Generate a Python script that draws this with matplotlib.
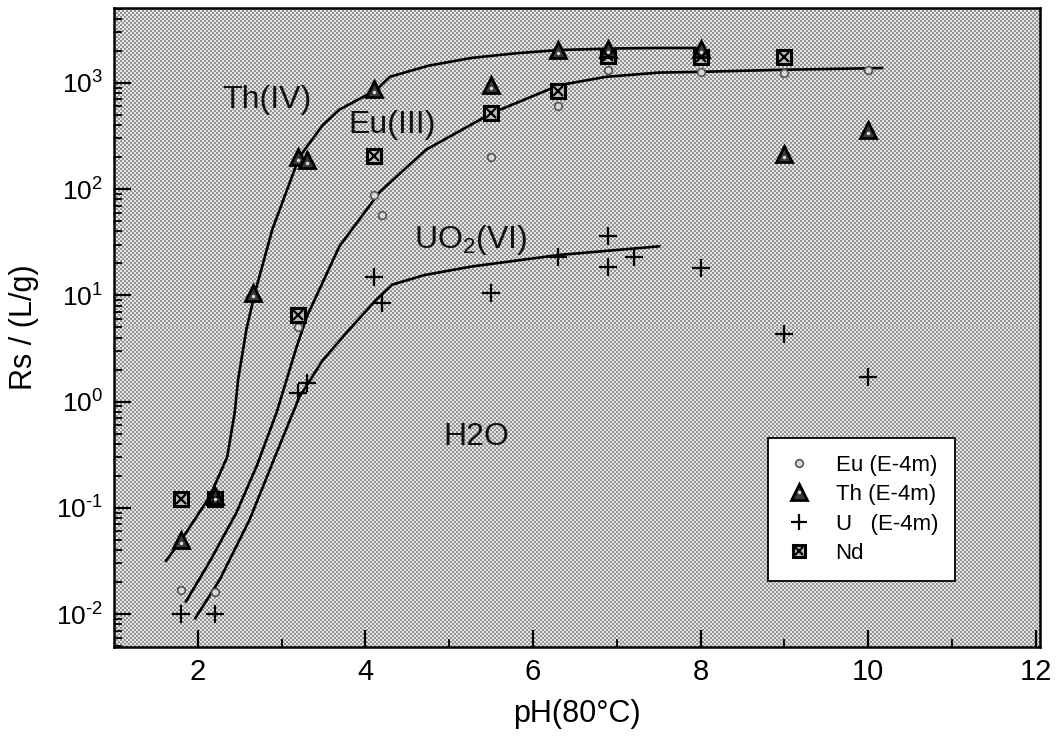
import numpy as np
import matplotlib
matplotlib.use("Agg")
import matplotlib.pyplot as plt
from matplotlib import font_manager
from matplotlib.ticker import LogLocator, FixedLocator, NullFormatter, FuncFormatter
from matplotlib.legend_handler import HandlerTuple
from matplotlib.lines import Line2D

# ---- measured sorption ratios Rs (L/g) vs pH at 80 C ----
eu_ph = [1.8, 2.2, 3.2, 4.1, 4.2, 5.5, 6.3, 6.9, 8.0, 9.0, 10.0]
eu_rs = [0.017, 0.016, 5.0, 88, 57, 200, 610, 1330, 1270, 1240, 1310]

th_ph = [1.8, 2.2, 2.66, 3.2, 3.3, 4.1, 5.5, 6.3, 6.9, 8.0, 9.0, 10.0]
th_rs = [0.05, 0.13, 10.5, 200, 190, 880, 960, 2050, 2100, 2100, 215, 360]

u_ph = [1.8, 2.2, 3.2, 3.3, 4.1, 4.2, 5.5, 6.3, 6.9, 6.9, 7.2, 8.0, 9.0, 10.0]
u_rs = [0.01, 0.01, 1.2, 1.5, 15, 8.5, 10.5, 23, 36, 18.5, 23, 18, 4.3, 1.7]

nd_ph = [1.8, 2.2, 3.2, 4.1, 5.5, 6.3, 6.9, 8.0, 9.0]
nd_rs = [0.12, 0.12, 6.6, 205, 520, 830, 1780, 1760, 1760]

# ---- fitted sorption edges ----
th_fit_ph = [1.61, 1.79, 2.14, 2.35, 2.44, 2.48, 2.58, 2.68, 2.89, 3.21, 3.49,
             3.69, 4.13, 4.29, 4.75, 5.27, 5.8, 6.31, 7.0, 7.5, 8.02]
th_fit_rs = [0.031, 0.048, 0.127, 0.30, 0.79, 1.6, 4.8, 10.5, 42, 200, 400,
             560, 860, 1140, 1450, 1720, 1900, 2040, 2110, 2130, 2130]

eu_fit_ph = [1.85, 2.14, 2.46, 2.70, 2.94, 3.18, 3.3, 3.69, 4.17, 4.72, 5.51,
             6.31, 6.87, 7.5, 8.0, 9.0, 10.18]
eu_fit_rs = [0.0128, 0.031, 0.09, 0.245, 0.79, 3.3, 6.3, 29, 94, 234, 520,
             950, 1140, 1250, 1270, 1330, 1380]

uo2_fit_ph = [1.96, 2.26, 2.62, 2.94, 3.21, 3.49, 3.81, 4.13, 4.32, 4.7, 5.27,
              6.31, 7.52]
uo2_fit_rs = [0.0089, 0.021, 0.078, 0.33, 1.1, 2.45, 4.8, 9.1, 12.6, 15.5,
              18.7, 24, 29]

legend_labels = ["Eu (E-4m)", "Th (E-4m)", "U   (E-4m)", "Nd"]
x_ticks = [2, 4, 6, 8, 10, 12]
y_ticks = [1e-2, 1e-1, 1e0, 1e1, 1e2, 1e3]

# ---- fonts ----
available = {f.name for f in font_manager.fontManager.ttflist}
main_font = "Liberation Sans" if "Liberation Sans" in available else "DejaVu Sans"
plt.rcParams["font.family"] = [main_font, "DejaVu Sans"]
plt.rcParams["mathtext.fontset"] = "custom"
plt.rcParams["mathtext.rm"] = main_font
plt.rcParams["mathtext.it"] = main_font

fig = plt.figure(figsize=(10.58, 7.40), dpi=100)
ax = fig.add_axes([0.1078, 0.1257, 0.8752, 0.8635])

ax.set_yscale("log")
ax.set_xlim(1, 12.05)
ax.set_ylim(10 ** -2.31, 10 ** 3.705)

# dithered grey background
w_px, h_px = 926, 640
yy, xx = np.mgrid[0:h_px, 0:w_px]
pattern = np.where(((xx // 2) + (yy // 2)) % 2 == 0, 0.9, 0.58)
ax.imshow(pattern, cmap="gray", vmin=0, vmax=1, interpolation="nearest",
          extent=[0, 1, 0, 1], transform=ax.transAxes, aspect="auto", zorder=0)

# fitted curves
line_kw = dict(color="black", lw=1.9, solid_capstyle="butt", zorder=2)
ax.plot(th_fit_ph, th_fit_rs, **line_kw)
ax.plot(eu_fit_ph, eu_fit_rs, **line_kw)
ax.plot(uo2_fit_ph, uo2_fit_rs, **line_kw)

# data markers
eu_kw = dict(ls="none", marker="o", ms=5.5, mfc="#d8d8d8", mec="#555555", mew=1.2, zorder=3)
th_kw = dict(ls="none", marker="^", ms=11.5, mfc="#3a3a3a", mec="black", mew=2.0, zorder=4)
th_dot_kw = dict(ls="none", marker="o", ms=2.5, mfc="#dddddd", mec="none", zorder=5)
u_kw = dict(ls="none", marker="+", ms=13, mec="black", mew=1.6, zorder=3)
nd_kw = dict(ls="none", marker="s", ms=10, mfc="#bbbbbb", mec="black", mew=2.2, zorder=4)
nd_x_kw = dict(ls="none", marker="x", ms=6.5, mec="black", mew=1.6, zorder=5)

ax.plot(eu_ph, eu_rs, **eu_kw)
ax.plot(u_ph, u_rs, **u_kw)
ax.plot(nd_ph, nd_rs, **nd_kw)
ax.plot(nd_ph, nd_rs, **nd_x_kw)
ax.plot(th_ph, th_rs, **th_kw)
ax.plot(th_ph, [v * 0.93 for v in th_rs], **th_dot_kw)

# curve annotations
txt_kw = dict(fontsize=23, color="#111111", ha="center", va="center", zorder=6)
ax.text(2.82, 690, "Th(IV)", **txt_kw)
ax.text(4.32, 400, "Eu(III)", **txt_kw)
ax.text(5.26, 33, r"UO$_2$(VI)", **txt_kw)
ax.text(5.32, 0.46, "H2O", **txt_kw)

# ticks
ax.xaxis.set_major_locator(FixedLocator(x_ticks))
ax.xaxis.set_minor_locator(FixedLocator([3, 5, 7, 9, 11]))
ax.xaxis.set_minor_formatter(NullFormatter())
ax.yaxis.set_major_locator(FixedLocator(y_ticks))
ax.yaxis.set_minor_locator(LogLocator(base=10, subs=np.arange(2, 10), numticks=20))
ax.yaxis.set_minor_formatter(NullFormatter())
ax.yaxis.set_major_formatter(
    FuncFormatter(lambda v, p: r"$10^{\text{%d}}$" % round(np.log10(v))))
ax.xaxis.set_major_formatter(FuncFormatter(lambda v, p: "%d" % v))

ax.tick_params(axis="both", which="major", direction="in", length=12, width=1.6,
               top=False, right=False, colors="black")
ax.tick_params(axis="both", which="minor", direction="in", length=6, width=1.3,
               top=False, right=False)
ax.tick_params(axis="y", which="major", labelsize=19, pad=8)
ax.tick_params(axis="x", which="major", labelsize=21, pad=8)

for side in ["left", "bottom", "top", "right"]:
    ax.spines[side].set_linewidth(1.8)
    ax.spines[side].set_color("black")
    ax.spines[side].set_zorder(10)

ax.set_xlabel("pH(80°C)", fontsize=22, labelpad=9)
ax.set_ylabel("Rs / (L/g)", fontsize=22, labelpad=12)

# legend
h_eu = Line2D([], [], **eu_kw)
h_th = (Line2D([], [], **dict(th_kw, ms=11)), Line2D([], [], **th_dot_kw))
h_u = Line2D([], [], **dict(u_kw, ms=11))
h_nd = (Line2D([], [], **dict(nd_kw, ms=9)), Line2D([], [], **dict(nd_x_kw, ms=6)))
leg = ax.legend([h_eu, h_th, h_u, h_nd], legend_labels,
                handler_map={tuple: HandlerTuple(ndivide=1, pad=0)},
                loc="upper left", bbox_to_anchor=(0.706, 0.327),
                fontsize=16, frameon=True, fancybox=False, framealpha=1,
                edgecolor="black", facecolor="white", borderpad=0.75,
                labelspacing=0.38, handlelength=1.3, handletextpad=1.0,
                borderaxespad=0)
leg.get_frame().set_linewidth(1.3)
leg.set_zorder(8)

fig.savefig("out.png", dpi=100)
